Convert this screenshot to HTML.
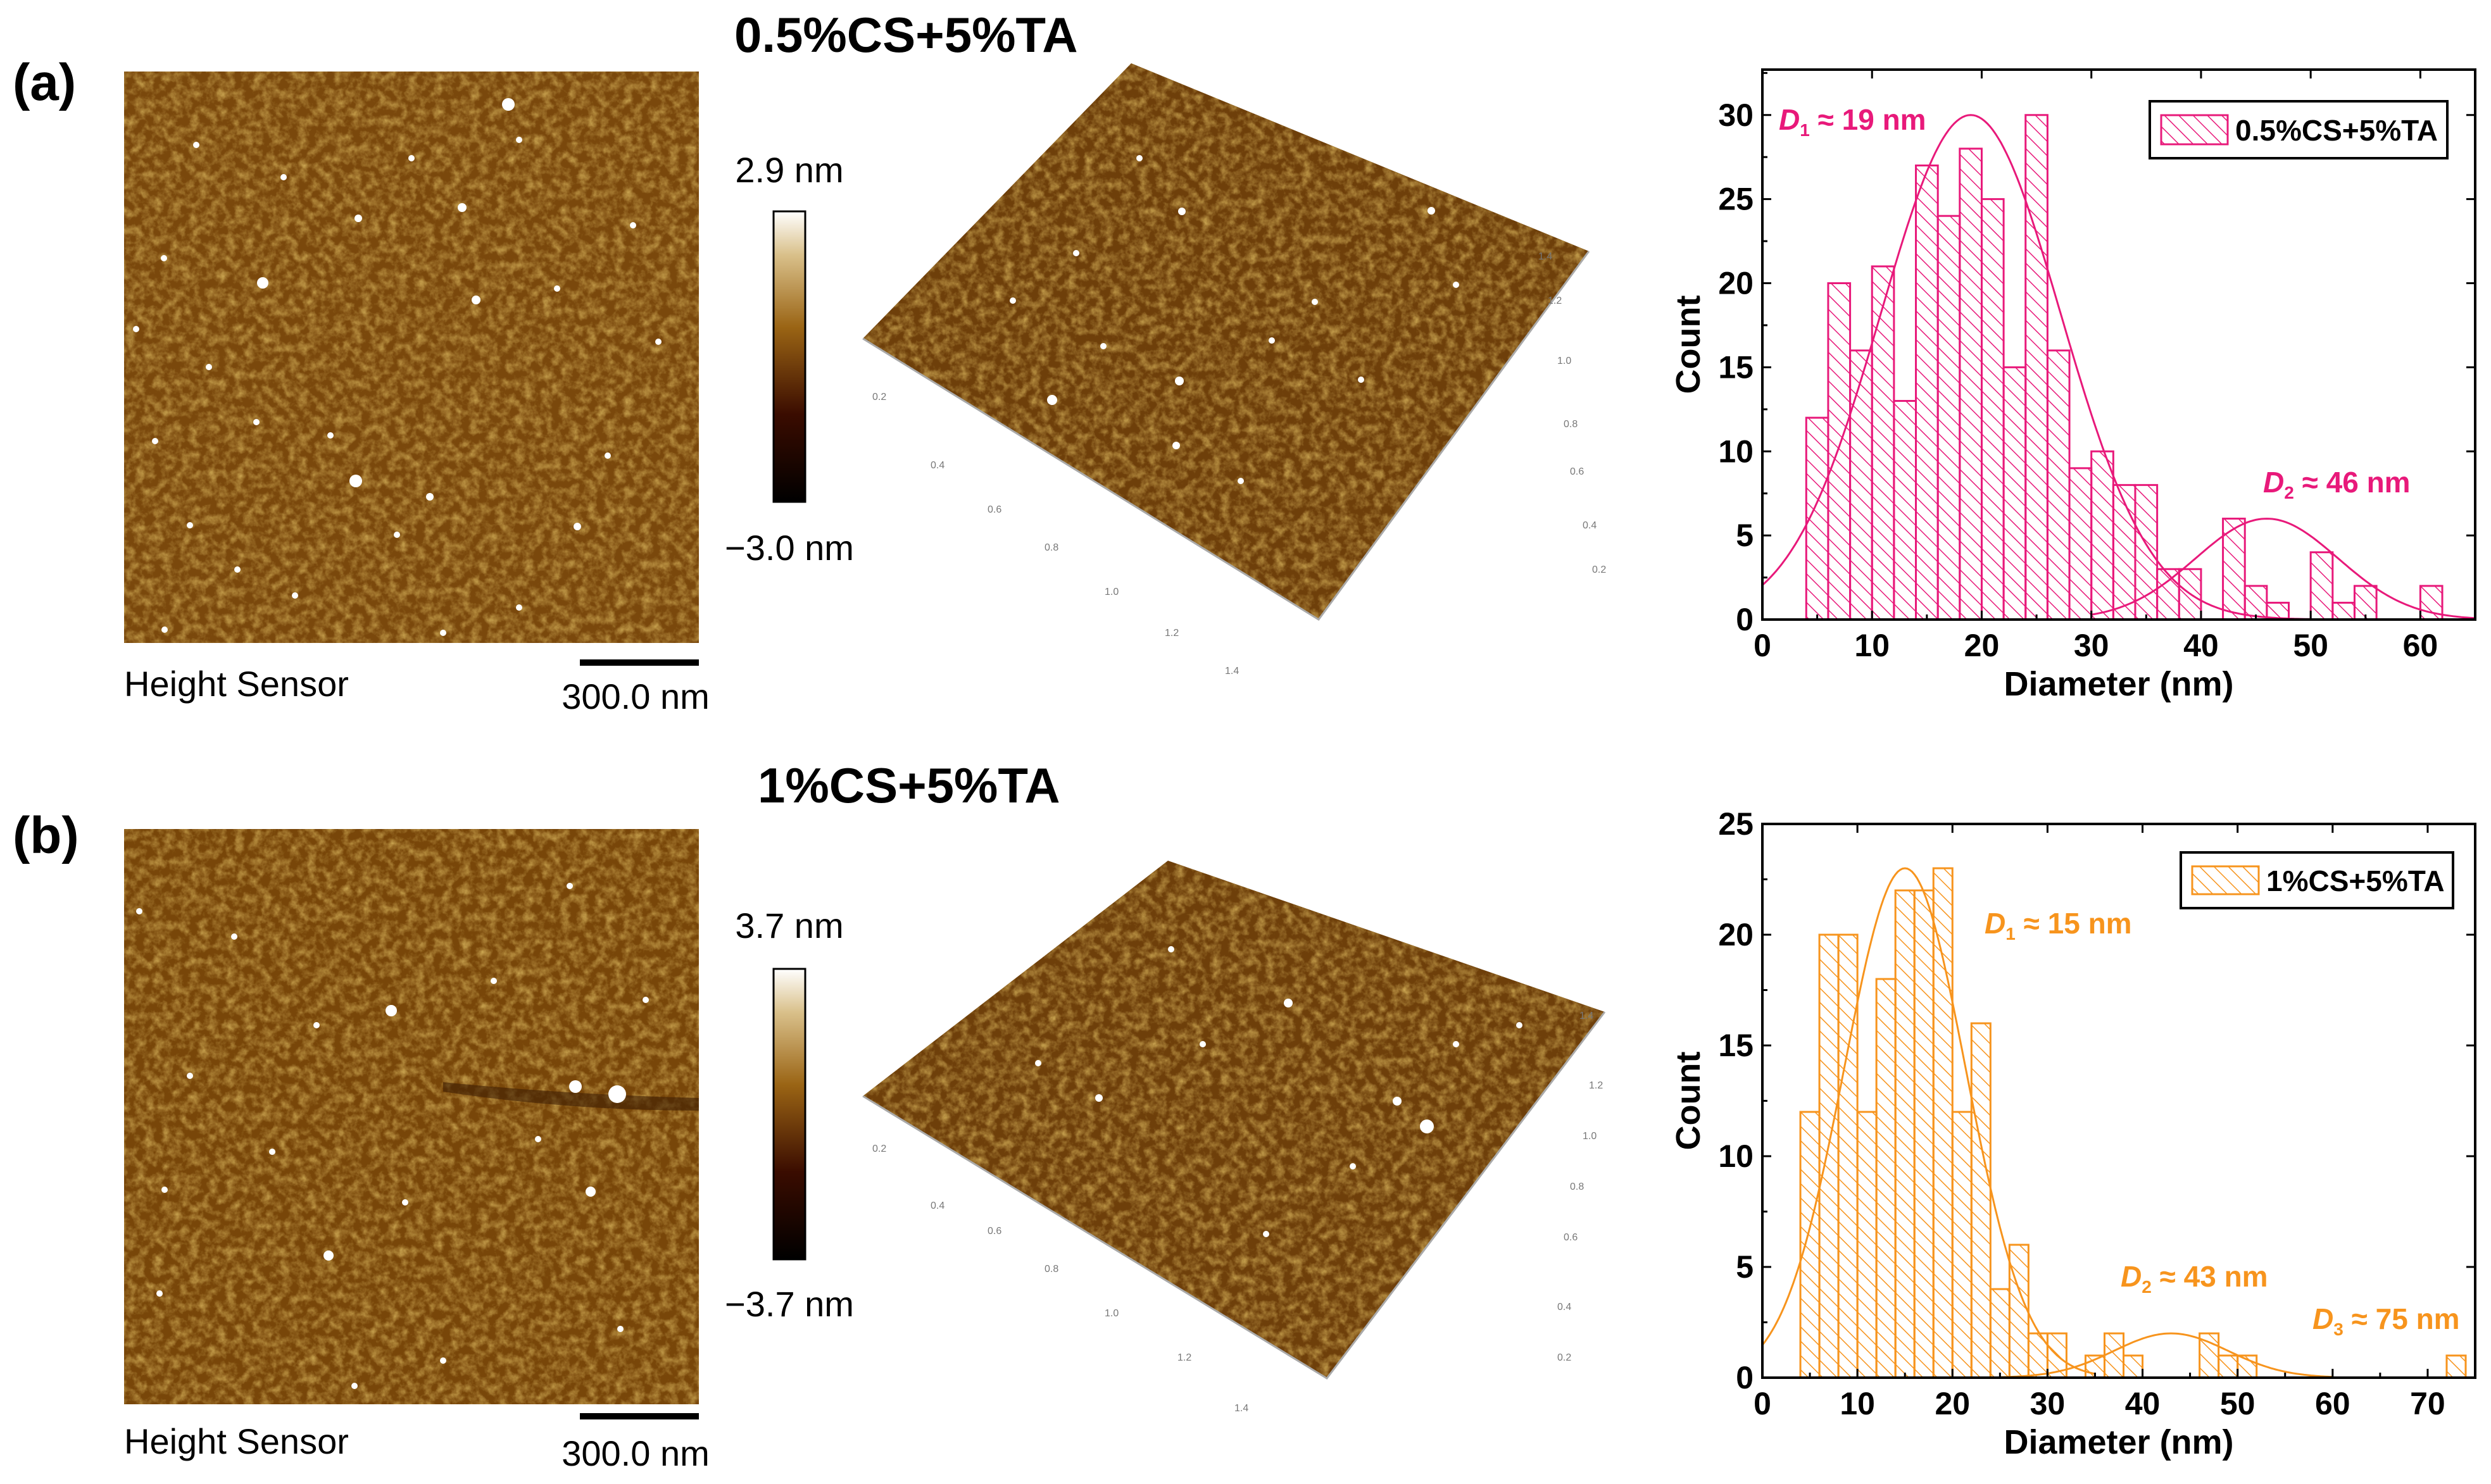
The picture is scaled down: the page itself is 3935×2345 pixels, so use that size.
<!DOCTYPE html>
<html><head><meta charset="utf-8"><style>
html,body{margin:0;padding:0;background:#fff;}
svg{display:block;font-family:"Liberation Sans",Arial,sans-serif;}
</style></head><body>
<svg id="fig" width="3935" height="2345" viewBox="0 0 3935 2345" xmlns="http://www.w3.org/2000/svg">
<defs>
<filter id="noise" x="0" y="0" width="100%" height="100%">
<feTurbulence type="fractalNoise" baseFrequency="0.07" numOctaves="4" seed="3" result="t"/>
<feColorMatrix in="t" type="matrix" values="0 0 0 0 0.62  0 0 0 0 0.40  0 0 0 0 0.09  0 0 0 -1.6 1.0" result="c"/>
<feComposite in="c" in2="SourceGraphic" operator="in"/>
</filter>
<linearGradient id="cbar" x1="0" y1="1" x2="0" y2="0">
<stop offset="0" stop-color="#000"/><stop offset="0.3" stop-color="#3a0c00"/><stop offset="0.6" stop-color="#9a6414"/><stop offset="0.85" stop-color="#d9c08a"/><stop offset="1" stop-color="#fff"/>
</linearGradient>
<pattern id="hatchPink" patternUnits="userSpaceOnUse" width="16" height="16" patternTransform="rotate(-45)">
<line x1="0" y1="0" x2="0" y2="16" stroke="#e8197a" stroke-width="3"/></pattern>
<pattern id="hatchOrange" patternUnits="userSpaceOnUse" width="16" height="16" patternTransform="rotate(-45)">
<line x1="0" y1="0" x2="0" y2="16" stroke="#f7941d" stroke-width="3"/></pattern>
</defs>

<text x="20" y="158" font-size="82" font-weight="bold">(a)</text>
<text x="1160" y="82" font-size="78" font-weight="bold">0.5%CS+5%TA</text>
<text x="20" y="1348" font-size="82" font-weight="bold">(b)</text>
<text x="1197" y="1268" font-size="78" font-weight="bold">1%CS+5%TA</text>

<g>
<rect x="196" y="113" width="908" height="903" fill="#7a480c"/>
<rect x="196" y="113" width="908" height="903" fill="#000" filter="url(#noise)"/>
<g id="dotsA" fill="#fff"></g>
</g>
<g>
<rect x="196" y="1310" width="908" height="909" fill="#784609"/>
<rect x="196" y="1310" width="908" height="909" fill="#000" filter="url(#noise)"/>
<path d="M700 1710 Q900 1730 1104 1735 L1104 1755 Q900 1755 700 1725Z" fill="#3e1e03" opacity="0.6"/>
<g id="dotsB" fill="#fff"></g>
</g>
<text x="196" y="1100" font-size="56">Height Sensor</text>
<rect x="916" y="1042" width="188" height="10" fill="#000"/>
<text x="1004" y="1120" font-size="56" text-anchor="middle">300.0 nm</text>
<text x="196" y="2297" font-size="56">Height Sensor</text>
<rect x="916" y="2233" width="188" height="10" fill="#000"/>
<text x="1004" y="2316" font-size="56" text-anchor="middle">300.0 nm</text>

<rect x="1222" y="334" width="50" height="459" fill="url(#cbar)" stroke="#000" stroke-width="3"/>
<text x="1247" y="288" font-size="56" text-anchor="middle">2.9 nm</text>
<text x="1247" y="885" font-size="56" text-anchor="middle">−3.0 nm</text>
<rect x="1222" y="1531" width="50" height="459" fill="url(#cbar)" stroke="#000" stroke-width="3"/>
<text x="1247" y="1482" font-size="56" text-anchor="middle">3.7 nm</text>
<text x="1247" y="2080" font-size="56" text-anchor="middle">−3.7 nm</text>

<g>
<polygon points="1363,535 1787,100 2510,397 2083,979" fill="#6e3f0a"/>
<polygon points="1363,535 1787,100 2510,397 2083,979" fill="#000" filter="url(#noise)"/>
<polyline points="1363,535 2083,979 2510,397" fill="none" stroke="#aaa" stroke-width="3"/>
<g id="dots3A" fill="#fff"></g>
</g>
<g>
<polygon points="1363,1732 1845,1360 2535,1599 2096,2178" fill="#6e3f0a"/>
<polygon points="1363,1732 1845,1360 2535,1599 2096,2178" fill="#000" filter="url(#noise)"/>
<polyline points="1363,1732 2096,2178 2535,1599" fill="none" stroke="#aaa" stroke-width="3"/>
<g id="dots3B" fill="#fff"></g>
</g>
<g id="tick3d" font-size="16" fill="#777"></g>

<g id="chartA"></g>
<g id="chartB"></g>
</svg>
<script>
const binStartA = [4,6,8,10,12,14,16,18,20,22,24,26,28,30,32,34,36,38,40,42,44,46,48,50,52,54,56,58,60];
const countsA   = [12,20,16,21,13,27,24,28,25,15,30,16,9,10,8,8,3,3,0,6,2,1,0,4,1,2,0,0,2];
const xTicksA = [0,10,20,30,40,50,60];
const yTicksA = [0,5,10,15,20,25,30];
const fitPeaksA = [19,46];
const fitAmpsA  = [30,6];
const fitSigmasA = [8.2,6.5];

const binStartB = [4,6,8,10,12,14,16,18,20,22,24,26,28,30,32,34,36,38,40,42,44,46,48,50,52,72];
const countsB   = [12,20,20,12,18,22,22,23,12,16,4,6,2,2,0,1,2,1,0,0,0,2,1,1,0,1];
const xTicksB = [0,10,20,30,40,50,60,70];
const yTicksB = [0,5,10,15,20,25];
const fitPeaksB = [15,43];
const fitAmpsB  = [23,2];
const fitSigmasB = [6.4,6];
const binWidth = 2;

const NS = "http://www.w3.org/2000/svg";
function mk(tag, attrs, parent){const e=document.createElementNS(NS,tag);for(const k in attrs)e.setAttribute(k,attrs[k]);parent.appendChild(e);return e;}

function drawChart(g, cfg){
  const L=2784,R=3910,T=cfg.top,B=cfg.bottom;
  const sx=v=>L+(v-cfg.xmin)/(cfg.xmax-cfg.xmin)*(R-L);
  const sy=v=>B-(v-cfg.ymin)/(cfg.ymax-cfg.ymin)*(B-T);
  cfg.bins.forEach((b,i)=>{
    const c=cfg.counts[i]; if(c<=0) return;
    const r=mk('rect',{x:sx(b),y:sy(c),width:sx(b+binWidth)-sx(b),height:B-sy(c),fill:cfg.pat,stroke:cfg.color,'stroke-width':3},g);
    
    
  });
  for(let k=0;k<cfg.peaks.length;k++){
    let d='';
    for(let x=cfg.fitFrom[k];x<=cfg.fitTo[k];x+=0.25){
      const y=cfg.amps[k]*Math.exp(-Math.pow(x-cfg.peaks[k],2)/(2*cfg.sig[k]*cfg.sig[k]));
      d+=(d?'L':'M')+sx(x).toFixed(1)+' '+sy(y).toFixed(1);
    }
    const p=mk('path',{d:d,fill:'none',stroke:cfg.color,'stroke-width':3},g);
    
    
  }
  const frame=mk('rect',{x:L,y:T,width:R-L,height:B-T,fill:'none',stroke:'#000','stroke-width':4},g);
  
  
  cfg.xt.forEach(v=>{
    mk('line',{x1:sx(v),x2:sx(v),y1:B,y2:B-14,stroke:'#000','stroke-width':3},g);
    mk('line',{x1:sx(v),x2:sx(v),y1:T,y2:T+14,stroke:'#000','stroke-width':3},g);
    mk('line',{x1:sx(v+5),x2:sx(v+5),y1:B,y2:B-8,stroke:'#000','stroke-width':3},g);
    const t=mk('text',{x:sx(v),y:B+58,'font-size':50,'text-anchor':'middle','font-weight':'bold'},g);
    t.textContent=v;
    
    
  });
  cfg.yt.forEach(v=>{
    mk('line',{x1:L,x2:L+14,y1:sy(v),y2:sy(v),stroke:'#000','stroke-width':3},g);
    mk('line',{x1:R,x2:R-14,y1:sy(v),y2:sy(v),stroke:'#000','stroke-width':3},g);
    if(v+2.5<=cfg.ymax) mk('line',{x1:L,x2:L+8,y1:sy(v+2.5),y2:sy(v+2.5),stroke:'#000','stroke-width':3},g);
    const t=mk('text',{x:L-14,y:sy(v)+17,'font-size':50,'text-anchor':'end','font-weight':'bold'},g);
    t.textContent=v;
    
    
  });
  const yl=mk('text',{x:0,y:0,'font-size':54,'font-weight':'bold','text-anchor':'middle',transform:`translate(2685,${(T+B)/2}) rotate(-90)`},g);
  yl.textContent='Count';
  
  
  const xl=mk('text',{x:3347,y:B+120,'font-size':54,'font-weight':'bold','text-anchor':'middle'},g);
  xl.textContent='Diameter (nm)';
  
  
  const lg=mk('g',{},g);
  
  
  const [lx,ly,lw,lh]=cfg.legend;
  mk('rect',{x:lx,y:ly,width:lw,height:lh,fill:'#fff',stroke:'#000','stroke-width':4},lg);
  mk('rect',{x:lx+18,y:ly+22,width:105,height:lh-44,fill:cfg.pat,stroke:cfg.color,'stroke-width':3},lg);
  const lt=mk('text',{x:lx+135,y:ly+lh/2+17,'font-size':46,'font-weight':'bold'},lg);
  lt.textContent=cfg.name;
  
  
  cfg.ann.forEach((a,i)=>{
    const t=mk('text',{x:a[0],y:a[1],'font-size':46,'font-weight':'bold',fill:cfg.color},g);
    t.innerHTML=`<tspan font-style="italic">D</tspan><tspan font-size="28" dy="10">${i+1}</tspan><tspan dy="-10"> ≈ ${a[2]} nm</tspan>`;
    
    
  });
}

drawChart(document.getElementById('chartA'),{top:110,bottom:979,xmin:0,xmax:65,ymin:0,ymax:32.7,
  bins:binStartA,counts:countsA,peaks:fitPeaksA,amps:fitAmpsA,sig:fitSigmasA,fitFrom:[0,30],fitTo:[50,65],
  xt:xTicksA,yt:yTicksA,color:'#e8197a',pat:'url(#hatchPink)',name:'0.5%CS+5%TA',
  legend:[3396,160,470,90],ann:[[2810,205,19],[3575,778,46]]});
drawChart(document.getElementById('chartB'),{top:1302,bottom:2177,xmin:0,xmax:75,ymin:0,ymax:25,
  bins:binStartB,counts:countsB,peaks:fitPeaksB,amps:fitAmpsB,sig:fitSigmasB,fitFrom:[0,25],fitTo:[35,60],
  xt:xTicksB,yt:yTicksB,color:'#f7941d',pat:'url(#hatchOrange)',name:'1%CS+5%TA',
  legend:[3445,1347,430,88],ann:[[3135,1475,15],[3350,2033,43],[3653,2100,75]]});

function dots(id,pts,rx){const g=document.getElementById(id);pts.forEach(p=>{mk('circle',{cx:p[0],cy:p[1],r:p[2]||rx,fill:'#fff'},g);});}
dots('dotsA',[[803,165,10],[415,447,9],[752,474,7],[562,760,10],[679,785,6],[536,1031,10],[730,328,7],[566,345,6],[259,408,5],[330,580,5],[245,697,5],[405,667,5],[522,688,5],[627,845,5],[375,900,5],[466,941,5],[912,832,6],[932,1044,5],[820,221,5],[310,229,5],[650,250,5],[448,280,5],[880,456,5],[1000,356,5],[1040,540,5],[960,720,5],[215,520,5],[300,830,5],[260,995,5],[820,960,5],[700,1000,5]],5);
dots('dotsB',[[618,1597,9],[909,1717,10],[975,1729,14],[933,1883,8],[519,1984,8],[252,2044,5],[370,1480,5],[500,1620,5],[300,1700,5],[780,1550,5],[1020,1580,5],[850,1800,5],[640,1900,5],[430,1820,5],[260,1880,5],[700,2150,5],[980,2100,5],[560,2190,5],[220,1440,5],[900,1400,5]],5);
dots('dots3A',[[1662,632,8],[1863,602,7],[1858,704,6],[1867,334,6],[2261,333,6],[2077,477,5],[1743,547,5],[2009,538,5],[1960,760,5],[1600,475,5],[1700,400,5],[2150,600,5],[2300,450,5],[1800,250,5]],5);
dots('dots3B',[[2035,1585,7],[2207,1740,7],[2254,1780,11],[1736,1735,6],[2137,1843,5],[1900,1650,5],[1640,1680,5],[2000,1950,5],[2300,1650,5],[1850,1500,5],[2400,1620,5]],5);

const t3=document.getElementById('tick3d');
const labs3=[[1378,632,'0.2'],[1470,740,'0.4'],[1560,810,'0.6'],[1650,870,'0.8'],[1745,940,'1.0'],[1840,1005,'1.2'],[1935,1065,'1.4'],
 [2430,410,'1.4'],[2445,480,'1.2'],[2460,575,'1.0'],[2470,675,'0.8'],[2480,750,'0.6'],[2500,835,'0.4'],[2515,905,'0.2'],
 [1378,1820,'0.2'],[1470,1910,'0.4'],[1560,1950,'0.6'],[1650,2010,'0.8'],[1745,2080,'1.0'],[1860,2150,'1.2'],[1950,2230,'1.4'],
 [2495,1610,'1.4'],[2510,1720,'1.2'],[2500,1800,'1.0'],[2480,1880,'0.8'],[2470,1960,'0.6'],[2460,2070,'0.4'],[2460,2150,'0.2']];
labs3.forEach(l=>{const t=mk('text',{x:l[0],y:l[1]},t3);t.textContent=l[2];});
</script>
</body></html>
